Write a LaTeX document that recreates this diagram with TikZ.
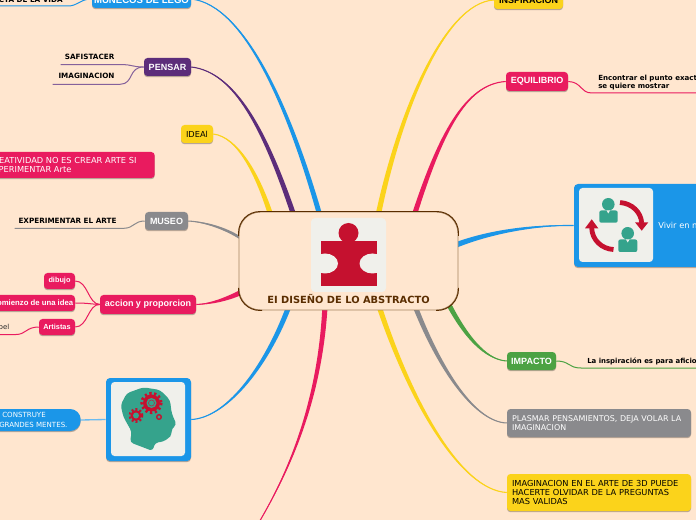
\documentclass[tikz,border=0pt]{standalone}
\usepackage{fontspec}
\setmainfont{DejaVu Sans}
\newfontfamily\labf{Liberation Sans}
\usetikzlibrary{calc,shadows}
\definecolor{bgc}{HTML}{FFE6CF}
\definecolor{bluec}{HTML}{1B96E8}
\definecolor{yelc}{HTML}{FBD31B}
\definecolor{pinkc}{HTML}{E91B5F}
\definecolor{grayc}{HTML}{8A8A8D}
\definecolor{greenc}{HTML}{4CA243}
\definecolor{purc}{HTML}{5C2D7A}
\definecolor{brownc}{HTML}{5A2D00}
\definecolor{tanc}{HTML}{A5835F}
\definecolor{paper}{HTML}{F0F0EB}
\definecolor{crim}{HTML}{C5112F}
\definecolor{teal2}{HTML}{35A38C}
\newcommand{\fpx}[2]{\fontsize{#1pt}{#2pt}\selectfont}
\newcommand{\taper}[6]{%
 \fill[#1] ($(#2)+(#3)$) .. controls ($(#4)+0.75*(#3)$) and ($(#5)+0.3*(#3)$) .. (#6) .. controls ($(#5)-0.3*(#3)$) and ($(#4)-0.75*(#3)$) .. ($(#2)-(#3)$) -- cycle;
 \draw[#1,line width=.8pt] (#2) .. controls (#4) and (#5) .. (#6);
}
\tikzset{
 sz/.style 2 args={minimum width=#1*.75pt,minimum height=#2*.75pt},
 box/.style={rounded corners=2.6pt,inner sep=0pt,drop shadow={shadow xshift=0pt,shadow yshift=-.9pt,opacity=.28,fill=black}},
 lab/.style={box,text=white,font=\labf\bfseries\fpx{6.75}{8}},
 sublab/.style={box,text=white,font=\labf\bfseries\fpx{5.5}{6.5}},
 under/.style={inner sep=0pt,font=\bfseries\fpx{5.42}{6.2}},
 thin1/.style={line width=.75pt}
}
\begin{document}
\begin{tikzpicture}[x=.75pt,y=-.75pt]
\useasboundingbox (0,0) rectangle (696,520);
\clip (0,0) rectangle (696,520);
\fill[bgc] (0,0) rectangle (696,520);

\path
 coordinate (s1) at (320,216) coordinate (s2) at (294,216) coordinate (s3) at (271,216)
 coordinate (s4) at (414,216) coordinate (s5) at (378,216) coordinate (s6) at (456,245)
 coordinate (s7) at (448,303) coordinate (s8) at (415,306) coordinate (s9) at (379,306)
 coordinate (s10) at (325,306) coordinate (s11) at (289,306) coordinate (s12) at (242,239)
 coordinate (s13) at (242,292) coordinate (pinkend) at (258,524);

\node[lab,fill=bluec,sz={99}{18},font=\labf\bfseries\fpx{7.2}{8}] (lego) at (141.5,-1) {MUÑECOS DE LEGO};
\node[lab,fill=purc,sz={47}{18}] (pensar) at (167.5,67) {PENSAR};
\node[box,fill=yelc,sz={32}{18},font=\fpx{6.2}{7.5}] (idea) at (197,134) {IDEAl};
\node[lab,fill=grayc,sz={43}{18}] (museo) at (166.5,221) {MUSEO};
\node[lab,fill=pinkc,sz={96}{19}] (accion) at (148,304.5) {accion y proporcion};
\node[lab,fill=yelc,text=black,sz={69}{18}] (insp) at (528.5,0) {INSPIRACION};
\node[lab,fill=pinkc,sz={62}{19}] (equi) at (537,81.5) {EQUILIBRIO};
\node[lab,fill=greenc,sz={49}{18}] (impacto) at (531.5,361) {IMPACTO};
\node[box,fill=grayc,text=white,sz={184}{28},font=\fpx{5.95}{6.8},align=left,text width=174*.75pt] (plasmar) at (599,423) {\mbox{PLASMAR PENSAMIENTOS, DEJA VOLAR LA}\\IMAGINACION};
\node[box,fill=yelc,text=black,sz={184}{37},font=\fpx{6.2}{7.1},align=left,text width=174*.75pt] (imag) at (599,492.5) {\mbox{IMAGINACION EN EL ARTE DE 3D PUEDE}\\HACERTE OLVIDAR DE LA PREGUNTAS\\MAS VALIDAS};
\node[box,fill=bluec,sz={85}{83},rounded corners=3pt] (headbox) at (148.5,419.5) {};
\node[box,fill=bluec,sz={140}{83},rounded corners=3pt] (peoplebox) at (644,225.5) {};

% main branches
\taper{bluec}{s1}{2.4,-.8}{290,110}{245,5}{lego.east}
\taper{purc}{s2}{2.4,-1}{265,130}{235,72}{pensar.east}
\taper{yelc}{s3}{2.4,-1}{258,175}{238,137}{idea.east}
\taper{pinkc}{s4}{2.4,.9}{440,135}{465,84}{equi.west}
\taper{yelc}{s5}{2.6,.6}{400,110}{445,3}{insp.west}
\taper{bluec}{s6}{.8,2.6}{495,230}{540,225}{peoplebox.west}
\taper{greenc}{s7}{2.2,-1.2}{470,345}{490,360}{impacto.west}
\taper{grayc}{s8}{2.2,-1.2}{440,370}{475,422}{plasmar.west}
\taper{yelc}{s9}{2.4,-1}{410,400}{460,490}{imag.west}
\taper{pinkc}{s10}{2.6,.3}{320,400}{290,470}{pinkend}
\taper{bluec}{s11}{2.4,1}{265,370}{225,418}{headbox.east}
\taper{grayc}{s12}{1.2,2.4}{225,228}{205,222}{museo.east}
\taper{pinkc}{s13}{1,2.4}{225,300}{210,304}{accion.east}

% centre
\node[fill=bgc,draw=tanc,line width=.7pt,rounded corners=16pt,sz={219}{98},inner sep=0pt] (centre) at (348.5,261) {};
\begin{scope}
 \clip (230,205) rectangle (470,236) (230,288) rectangle (262,315) (436,288) rectangle (470,315);
 \draw[brownc,line width=.7pt,rounded corners=16pt] (centre.south west) rectangle (centre.north east);
\end{scope}
\node[inner sep=0pt,text=brownc,font=\bfseries\fpx{7.4}{9}] (title) at (348.5,299) {EI DISEÑO DE LO ABSTRACTO};
\node[fill=paper,rounded corners=3pt,sz={75}{74},inner sep=0pt] (puzzlebg) at (348.5,255) {};
\fill[crim] (320.5,241) -- (377,241) -- (377,286) -- (320.5,286) -- cycle;
\fill[crim] (348.5,233) circle (10);
\fill[paper] (325,263.5) ellipse [x radius=13,y radius=10];
\fill[paper] (372.5,263.5) ellipse [x radius=13,y radius=10];
\fill[paper] (311,250) rectangle (320.5,277);
\fill[paper] (377,250) rectangle (386,277);

% left sub-topics
\node[under,anchor=east] (vida) at (63,0) {CTA DE LA VIDA};
\coordinate (vidaend) at (-2,6);
\draw[bluec,thin1] (lego.west) .. controls (80,-1) and (78,6) .. (68,6) -- (vidaend);

\node[under,sz={61}{14.5}] (safi) at (91.5,57.2) {\hspace*{-2.8pt}SAFISTACER};
\node[under,sz={67}{16}] (imagi) at (86.5,76) {IMAGINACION};
\draw[purc!75!white,thin1] (pensar.west) .. controls (132,67) and (132,64.5) .. (safi.south east) -- (safi.south west);
\draw[purc!75!white,thin1] (pensar.west) .. controls (128,67) and (134,84) .. (imagi.south east) -- (imagi.south west);

\node[under,sz={109}{14}] (exper) at (69.5,221) {\hspace*{-3pt}EXPERIMENTAR EL ARTE};
\draw[grayc,thin1] (museo.west) .. controls (134,221) and (134,228) .. (exper.south east) -- (exper.south west);

\node[box,fill=pinkc,text=white,sz={170}{26},font=\fpx{6.2}{7.4},align=left,anchor=east] (creat) at (155,165) {\parbox{164\dimexpr.75pt}{\raggedright CREATIVIDAD NO ES CREAR ARTE SI\\ EXPERIMENTAR Arte}};

\node[sublab,fill=pinkc,sz={31}{16}] (dibujo) at (59.5,281) {dibujo};
\node[sublab,fill=pinkc,sz={90}{16},font=\labf\bfseries\fpx{5.8}{6.5}] (comienzo) at (30,303) {\hspace*{4.5pt}comienzo de una idea};
\node[sublab,fill=pinkc,sz={36}{16}] (artistas) at (57,327) {Artistas};
\draw[pinkc,thin1] (accion.west) .. controls (88,304) and (88,281) .. (dibujo.east);
\draw[pinkc,thin1] (accion.west) .. controls (90,304) and (88,303) .. (comienzo.east);
\draw[pinkc,thin1] (accion.west) .. controls (88,304) and (88,327) .. (artistas.east);
\node[inner sep=0pt,anchor=east,font=\fpx{5.2}{6.2},text=black!85] (pel) at (9.5,327.5) {pel};
\coordinate (pelend) at (-2,334.5);
\draw[pinkc,thin1] (artistas.west) .. controls (26,327) and (26,334.5) .. (16,334.5) -- (pelend);

\node[box,fill=bluec,text=white,sz={100}{22},rounded corners=8pt,anchor=east] (construye) at (81,420) {};
\node[inner sep=0pt,anchor=west,text=white,font=\fpx{5.3}{7},align=left] (conste) at (-1,420) {\hspace*{3\dimexpr.75pt}CONSTRUYE\\GRANDES MENTES.};
\draw[bluec!65!white,line width=1pt] (construye.east) -- (headbox.west);

% head picture
\node[fill=paper,rounded corners=2.6pt,sz={74}{74},inner sep=0pt] (headbg) at (148,419) {};
\fill[teal2,rounded corners=2.5pt] (130,442.3) -- (131.7,431.7) -- (123.3,416.7) -- (120.7,405) -- (126.7,393.3) -- (143.3,387.3) -- (160,390) -- (170,400) -- (171.7,413.3) -- (176.7,425) -- (171.7,428.3) -- (171.7,435) -- (168.3,438.3) -- (163.3,441.7) -- (155,442.7) -- (152.7,451) -- cycle;
\fill[crim] (151.5,403) circle (8.5);
\draw[crim,line width=2.2pt,dash pattern=on 1.7pt off 1.9pt] (151.5,403) circle (9.7);
\fill[teal2] (151.5,403) circle (5);
\draw[crim!70!teal2,line width=.5pt] (151.5,403) circle (3);
\fill[crim] (136,415.5) circle (5.5);
\draw[crim,line width=1.6pt,dash pattern=on 1.5pt off 1.6pt] (136,415.5) circle (6.3);
\fill[teal2] (136,415.5) circle (3);
\draw[crim,line width=1pt] (159,417) circle (2.3);

% right sub-topics
\node[inner sep=0pt,anchor=south west,sz={104}{18},font=\bfseries\fpx{5.3}{6.1},align=left] (encon) at (592,93) {\hspace*{4.5pt}\parbox[b]{100pt}{Encontrar el punto exacto\\se quiere mostrar\vspace{1.3pt}}};
\draw[pinkc,thin1] (equi.east) .. controls (582,82) and (580,93) .. (encon.south west) -- (encon.south east);
\node[inner sep=0pt,anchor=south west,sz={115}{13},font=\bfseries\fpx{5.2}{6.1},align=left] (lains) at (581,368) {\hspace*{4.5pt}La inspiración es para aficio};
\draw[greenc,thin1] (impacto.east) .. controls (570,361) and (568,368) .. (lains.south west) -- (lains.south east);

% people picture
\node[fill=paper,rounded corners=2.6pt,sz={74}{74},inner sep=0pt] (peoplebg) at (616,225) {};
\fill[teal2] (608.3,204.3) circle (6.3);
\fill[teal2,rounded corners=1.5pt] (599.3,210.5) rectangle (617.7,222.7);
\fill[paper] (606.5,210.5) -- (610,210.5) -- (608.3,213.5) -- cycle;
\fill[teal2] (627.7,233.3) circle (6.3);
\fill[teal2,rounded corners=1.5pt] (618.3,239.5) rectangle (637.3,252);
\fill[paper] (626,239.5) -- (629.5,239.5) -- (627.7,242.5) -- cycle;
\draw[crim,line width=3.6pt] (620,202.5) .. controls (632,203.5) and (641,212) .. (641.7,223);
\fill[crim] (635,222.3) -- (648.3,222.3) -- (641.7,230.7) -- cycle;
\draw[crim,line width=3.6pt] (591.7,228) .. controls (592,240) and (602,249) .. (613.5,249.5);
\fill[crim] (585,228.3) -- (598.3,228.3) -- (591.7,219.3) -- cycle;
\node[inner sep=0pt,anchor=west,text=white,font=\fpx{6.2}{7.4}] (vivir) at (658,225) {Vivir en n};
\end{tikzpicture}
\end{document}
